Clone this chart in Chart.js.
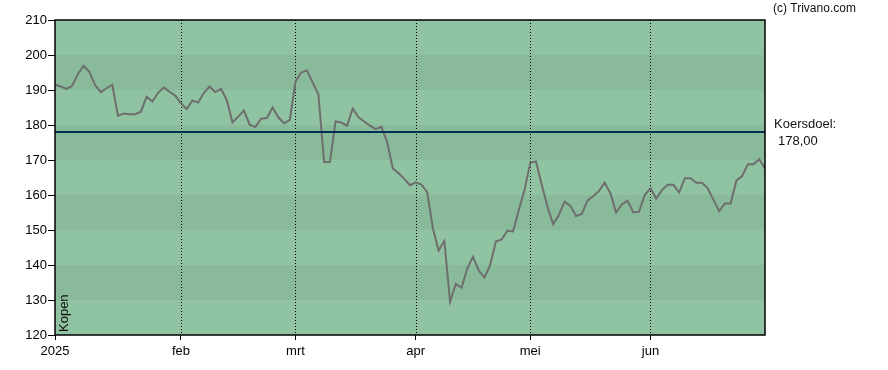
<!DOCTYPE html>
<html lang="nl">
<head>
<meta charset="UTF-8">
<title>Koersverloop 2025</title>
<script src="https://cdn.jsdelivr.net/npm/chart.js"></script>
<style>
    body { margin: 0; background: #fff; }
    .chart-box { width: 888px; height: 370px; position: relative; }
</style>
</head>
<body>
<div class="chart-box"><canvas id="priceChart"></canvas></div>
<script>
// slotkoersen per handelsdag, per maand
const janPrices = [191.5, 191, 190.3, 191.2, 194.6, 196.9, 195.2, 191.4, 189.4, 190.5, 191.5,
    182.6, 183.3, 183.1, 183.1, 183.8, 188.1, 186.7, 189.2, 190.7, 189.5, 188.4];
const febPrices = [186.2, 184.5, 187, 186.4, 189.2, 191, 189.4, 190.3, 187.1, 180.7,
    182.4, 184.1, 180.1, 179.4, 181.8, 182, 185, 182.2, 180.5, 181.4];
const mrtPrices = [192.4, 195, 195.6, 192.1, 188.8, 169.4, 169.4, 181, 180.7, 179.8, 184.7,
    182.2, 181, 179.8, 178.8, 179.5, 175.2, 167.6, 166.2, 164.6, 162.8];
const aprPrices = [163.6, 163, 160.8, 150.5, 144.1, 146.9, 129.5, 134.6, 133.5, 139,
    142.4, 138.4, 136.4, 140, 146.7, 147.3, 149.8, 149.6, 155.7, 161.4];
const meiPrices = [169.2, 169.6, 163, 156.7, 151.7, 154.3, 158.1, 156.9, 154, 154.6, 158.4,
    159.7, 161.1, 163.5, 160.5, 155, 157.3, 158.4, 155, 155.2, 160];
const junPrices = [161.9, 159, 161.4, 162.9, 162.9, 160.7, 164.8, 164.8, 163.5, 163.5, 161.9,
    158.6, 155.4, 157.6, 157.6, 164.1, 165.4, 168.8, 168.8, 170.2, 167.6];

const monthLabels = ['2025', 'feb', 'mrt', 'apr', 'mei', 'jun'];
const targetPrice = 178;
const yMin = 120, yMax = 210, yStep = 10;

const months = [janPrices, febPrices, mrtPrices, aprPrices, meiPrices, junPrices];
const prices = [].concat(...months);
const monthStarts = [];
let count = 0;
months.forEach(function(m) { monthStarts.push(count); count += m.length; });
const lastIndex = prices.length - 1;

const LIGHT = 'rgb(144,195,161)';
const DARK = 'rgb(137,187,155)';

// achtergrondbanden + stippellijnen per maand
const backgroundPlugin = {
    id: 'background',
    beforeDatasetsDraw(chart) {
        const {ctx, chartArea: a, scales: {x, y}} = chart;
        ctx.save();
        for (let v = yMin; v < yMax; v += yStep) {
            const top = y.getPixelForValue(v + yStep);
            const bottom = y.getPixelForValue(v);
            ctx.fillStyle = ((v / yStep) % 2 === 1) ? DARK : LIGHT;
            ctx.fillRect(a.left, top, a.right - a.left, bottom - top);
        }
        ctx.strokeStyle = '#000';
        ctx.lineWidth = 1;
        ctx.setLineDash([1, 2]);
        monthStarts.slice(1).forEach(function(v) {
            const px = Math.round(x.getPixelForValue(v)) + 0.5;
            ctx.beginPath();
            ctx.moveTo(px, a.top);
            ctx.lineTo(px, a.bottom);
            ctx.stroke();
        });
        ctx.restore();
    },
    afterDraw(chart) {
        const {ctx, chartArea: a, scales: {y}} = chart;
        ctx.save();
        // kader
        ctx.strokeStyle = '#000';
        ctx.lineWidth = 1.5;
        ctx.strokeRect(a.left, a.top, a.right - a.left, a.bottom - a.top);
        // teksten
        ctx.fillStyle = '#111';
        ctx.textBaseline = 'middle';
        ctx.textAlign = 'left';
        ctx.font = '12px "Liberation Sans", Arial, sans-serif';
        ctx.fillText('(c) Trivano.com', 773, 9);
        ctx.font = '13px "Liberation Sans", Arial, sans-serif';
        const ty = y.getPixelForValue(targetPrice);
        ctx.fillText('Koersdoel:', 774, ty - 8);
        ctx.fillText('178,00', 778, ty + 9);
        ctx.translate(64, a.bottom - 3);
        ctx.rotate(-Math.PI / 2);
        ctx.fillText('Kopen', 0, 0);
        ctx.restore();
    }
};

Chart.defaults.font.family = '"Liberation Sans", Arial, sans-serif';
Chart.defaults.font.size = 13;
Chart.defaults.color = '#000';

new Chart(document.getElementById('priceChart'), {
    type: 'line',
    data: {
        datasets: [
            {
                label: 'Koersdoel',
                data: [{x: 0, y: targetPrice}, {x: lastIndex, y: targetPrice}],
                borderColor: '#003056',
                borderWidth: 2,
                pointRadius: 0
            },
            {
                label: 'Koers',
                data: prices.map((v, i) => ({x: i, y: v})),
                borderColor: '#6e6e6e',
                borderWidth: 2,
                pointRadius: 0,
                tension: 0
            }
        ]
    },
    options: {
        responsive: true,
        maintainAspectRatio: false,
        animation: false,
        layout: { padding: { top: 20, right: 123, left: 0, bottom: 0 } },
        plugins: { legend: { display: false }, tooltip: { enabled: false } },
        scales: {
            x: {
                type: 'linear',
                min: 0,
                max: lastIndex,
                afterBuildTicks(scale) {
                    scale.ticks = monthStarts.map(v => ({value: v}));
                },
                afterFit(scale) { scale.height = 35; },
                ticks: {
                    autoSkip: false,
                    maxRotation: 0,
                    padding: 4,
                    callback(value) {
                        const i = monthStarts.indexOf(value);
                        return i >= 0 ? monthLabels[i] : '';
                    }
                },
                grid: { drawOnChartArea: false, tickLength: 5, color: '#000' },
                border: { display: false }
            },
            y: {
                min: yMin,
                max: yMax,
                afterFit(scale) { scale.width = 55; },
                ticks: { stepSize: yStep, padding: 1 },
                grid: { drawOnChartArea: false, tickLength: 7, color: '#000' },
                border: { display: false }
            }
        }
    },
    plugins: [backgroundPlugin]
});
</script>
</body>
</html>
